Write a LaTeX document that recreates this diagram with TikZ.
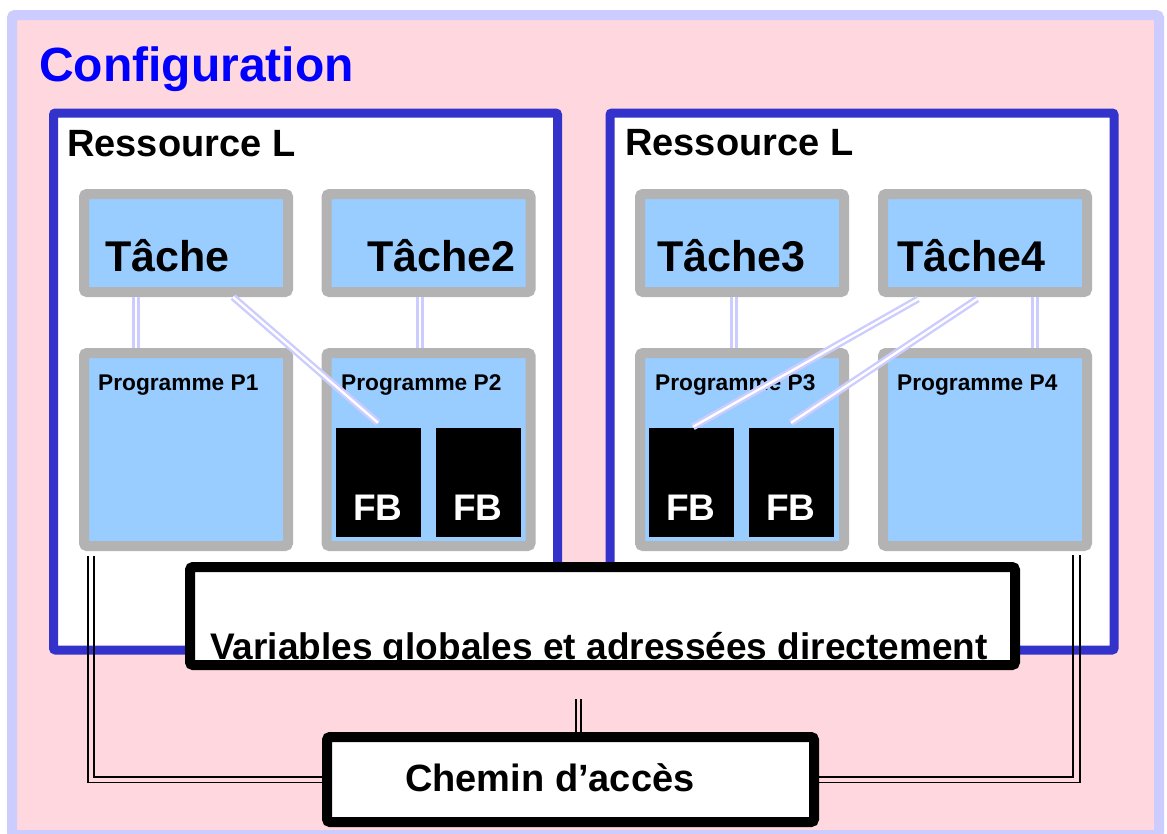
\documentclass[tikz,border=0pt]{standalone}
\usepackage{fontspec}
\setmainfont{Liberation Sans}
\usetikzlibrary{positioning}
\definecolor{rose}{RGB}{255,215,222}
\definecolor{lavande}{RGB}{204,204,255}
\definecolor{bleucadre}{RGB}{51,51,204}
\definecolor{bleuclair}{RGB}{153,204,255}
\definecolor{grisbord}{RGB}{179,179,179}

\begin{document}
\begin{tikzpicture}
[x=1pt,y=-1pt,
ressource/.style = {draw=bleucadre, line width=9, fill=white, rounded corners=2, minimum width=504, minimum height=537, inner sep=0},
tache/.style = {draw=grisbord, line width=10, fill=bleuclair, rounded corners=3, minimum width=204, minimum height=98, inner sep=0},
prog/.style = {tache, minimum height=193},
fb/.style = {fill=black, minimum width=85, minimum height=109, inner sep=0},
fond/.style = {fill=white, inner sep=0, outer sep=0},
cadre/.style = {draw=black, line width=10, rounded corners=3},
lien/.style = {draw=lavande, line width=2.4, double=white, double distance=2.3},
fil/.style = {draw=black, line width=1.8},
txt/.style = {anchor=base west, inner sep=0, font=\bfseries},
titre/.style = {txt, text=blue, font=\fontsize{48}{56}\selectfont\bfseries},
grand/.style = {txt, font=\fontsize{38}{46}\selectfont\bfseries},
tachetxt/.style = {txt, font=\fontsize{43}{50}\selectfont\bfseries},
progtxt/.style = {txt, font=\fontsize{22.7}{27}\selectfont\bfseries},
fbtxt/.style = {anchor=base, inner sep=0, text=white, font=\fontsize{37}{44}\selectfont\bfseries}]
\useasboundingbox (0,0) rectangle (1167,833);
\draw[lavande, line width=10, fill=rose, rounded corners=3] (12,15) rectangle (1159,835);
\node[titre] (conf) at (39,81) {Configuration};
% ressources
\node[ressource] (r1) at (305.5,381.5) {};
\node[ressource] (r2) at (862,381.5) {};
\node[grand] (r1txt) at (67,156) {Ressource L};
\node[grand] (r2txt) at (625,155) {Ressource L};
% taches et programmes
\node[tache] (t1) at (186,243) {};
\node[tache] (t2) at (428.5,243) {};
\node[tache] (t3) at (742,243) {};
\node[tache] (t4) at (985,243) {};
\node[prog] (p1) at (186,449.5) {};
\node[prog] (p2) at (428.5,449.5) {};
\node[prog] (p3) at (742,449.5) {};
\node[prog] (p4) at (985,449.5) {};
\node[tachetxt] (t1txt) at (105,271) {Tâche};
\node[tachetxt] (t2txt) at (367,271) {Tâche2};
\node[tachetxt] (t3txt) at (657,271) {Tâche3};
\node[tachetxt] (t4txt) at (897,271) {Tâche4};
\node[progtxt] (p1txt) at (98,390) {Programme P1};
\node[progtxt] (p2txt) at (341,390) {Programme P2};
\node[progtxt] (p3txt) at (655,390) {Programme P3};
\node[progtxt] (p4txt) at (897,390) {Programme P4};
\node[fb] (fb1) at (378,482.5) {};
\node[fb] (fb2) at (478,482.5) {};
\node[fb] (fb3) at (691,482.5) {};
\node[fb] (fb4) at (791,482.5) {};
\foreach \i in {1,...,4}
  \node[fbtxt] at ([yshift=17]fb\i.south) {FB};
\draw[lien] ([xshift=-50]t1.south) -- ([xshift=-50]p1.north);
\draw[lien] ([xshift=-8.5]t2.south) -- ([xshift=-8.5]p2.north);
\draw[lien] ([xshift=-8]t3.south) -- ([xshift=-8]p3.north);
\draw[lien] ([xshift=50]t4.south) -- ([xshift=50]p4.north);
\draw[lien] ([xshift=47]t1.south) -- ([yshift=5]fb1.north);
\draw[lien] ([xshift=-67,yshift=-2]t4.south) -- ([xshift=2,yshift=1]fb3.north);
\draw[lien] ([xshift=-8,yshift=-2]t4.south) -- ([yshift=5]fb4.north);
% variables et chemin d'acces
\node[fond, minimum width=825, minimum height=98] (var) at (602.5,616) {};
\node[grand, font=\fontsize{37}{44}\selectfont\bfseries] (vartxt) at (210,659) {Variables globales et adressées directement};
\draw[cadre] (var.north west) rectangle (var.south east);
\node[fond, cadre, minimum width=487, minimum height=85] (chemin) at (570.5,779.5) {};
\node[grand] (chemintxt) at (405,791) {Chemin d’accès};
\draw[fil] ([xshift=9,yshift=-5]p1.south west) |- ([yshift=-3]chemin.west);
\draw[fil] ([xshift=15,yshift=-5]p1.south west) |- ([yshift=2.5]chemin.west);
\draw[fil] ([xshift=-19,yshift=-4]p4.south east) |- ([yshift=2.5]chemin.east);
\draw[fil] ([xshift=-12,yshift=-4]p4.south east) |- ([yshift=-3]chemin.east);
\coordinate (m) at (578.5,699);
\draw[fil] ([xshift=-2.5]m) -- ([xshift=5.5]chemin.north);
\draw[fil] ([xshift=2.5]m) -- ([xshift=10.5]chemin.north);
\end{tikzpicture}
\end{document}
